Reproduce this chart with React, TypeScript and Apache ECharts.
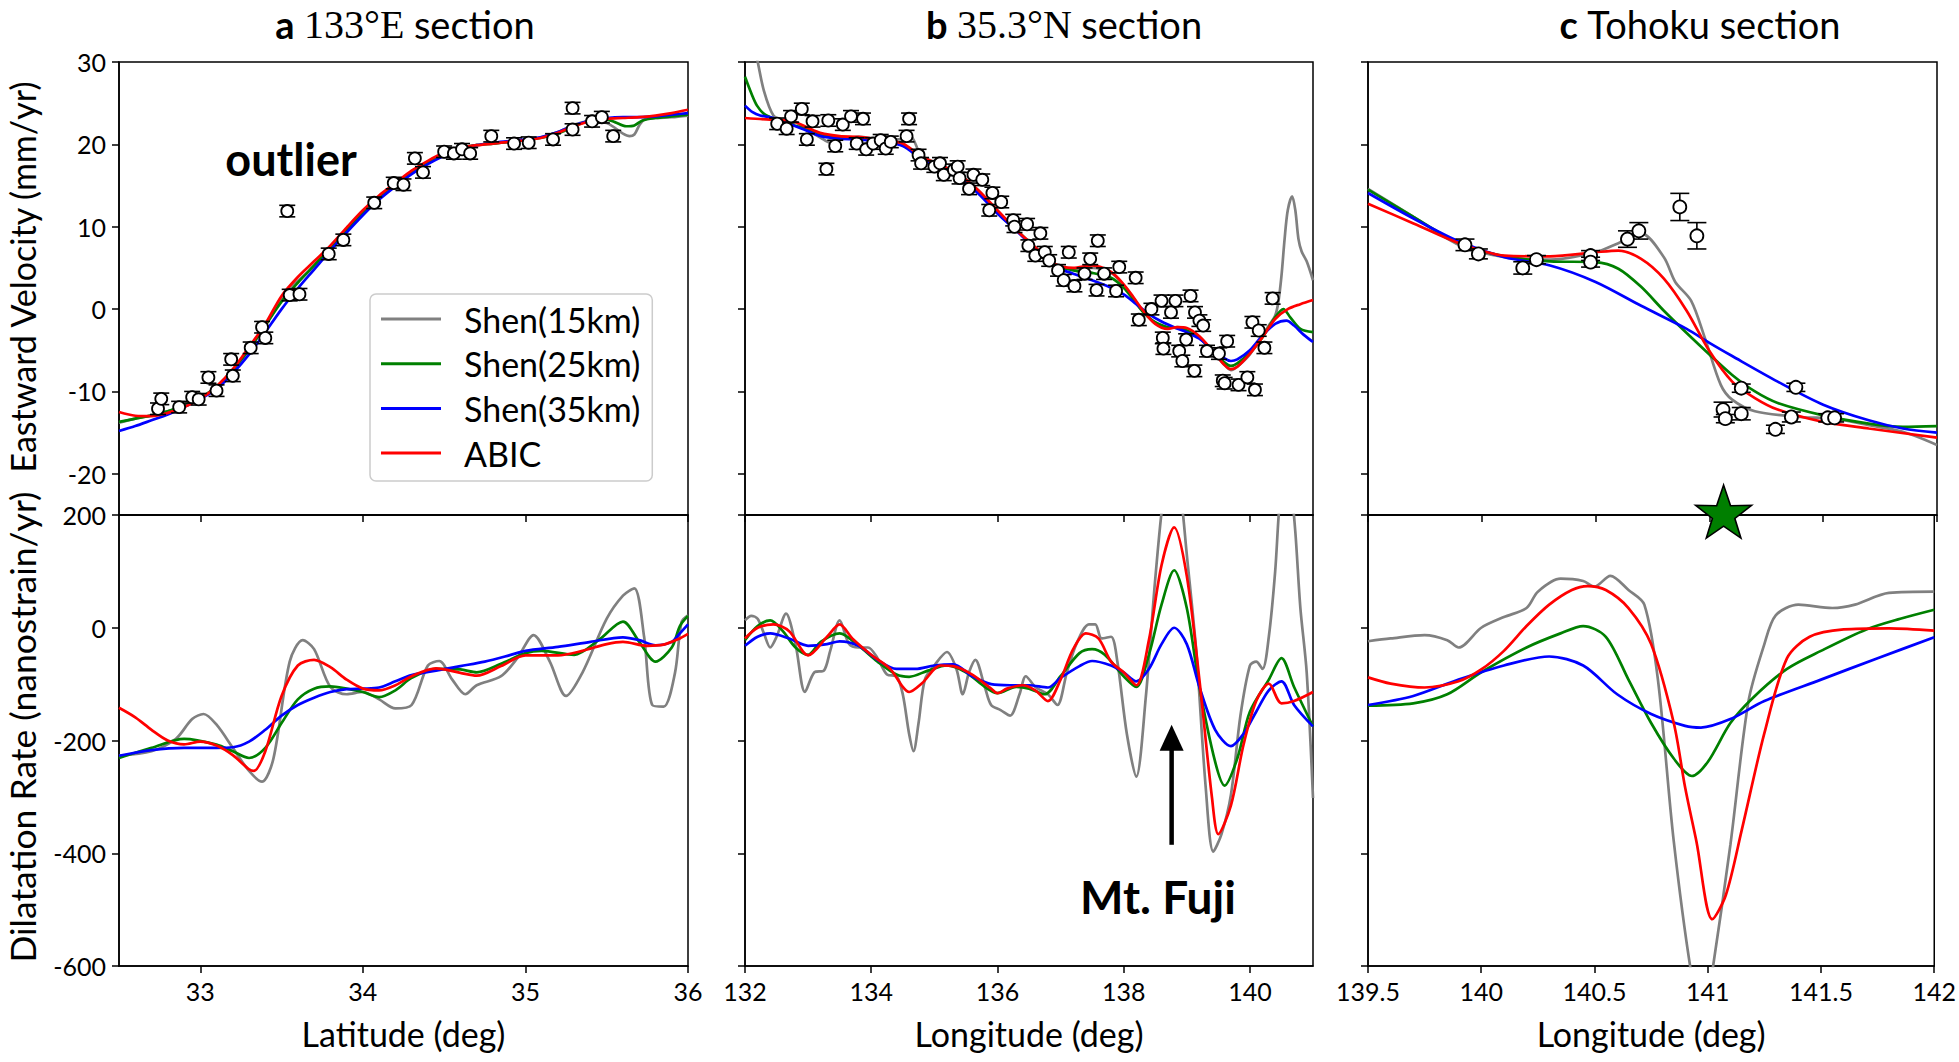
import React, { useEffect, useRef } from 'react';
import * as echarts from 'echarts';

const SERIES_NAMES = ['Shen(15km)', 'Shen(25km)', 'Shen(35km)', 'ABIC'];
const SERIES_COLORS = ['#808080', '#008000', '#0000ff', '#ff0000'];

// ---------- tick values ----------
const aTicksX = [33, 34, 35, 36];
const bTicksX = [132, 134, 136, 138, 140];
const cTicksX = [139.5, 140, 140.5, 141, 141.5, 142];
const velTicks = [-20, -10, 0, 10, 20, 30];
const dilTicks = [-600, -400, -200, 0, 200];

// ---------- panel a : 133°E section ----------
const aObs = [
  [32.74, -12.1, 0.7], [32.76, -10.9, 0.7], [32.87, -11.9, 0.7], [32.95, -10.7, 0.7], [32.99, -10.95, 0.7],
  [33.05, -8.3, 0.7], [33.1, -9.9, 0.7], [33.19, -6.1, 0.7], [33.2, -8.1, 0.7], [33.31, -4.7, 0.7],
  [33.38, -2.2, 0.7], [33.4, -3.5, 0.7], [33.535, 11.9, 0.7], [33.55, 1.7, 0.7], [33.61, 1.8, 0.7],
  [33.79, 6.7, 0.7], [33.88, 8.4, 0.7], [34.07, 12.9, 0.7], [34.19, 15.3, 0.7], [34.25, 15.1, 0.7],
  [34.32, 18.3, 0.7], [34.37, 16.6, 0.7], [34.5, 19.1, 0.7], [34.56, 18.9, 0.7], [34.61, 19.4, 0.7],
  [34.66, 18.9, 0.7], [34.79, 21.0, 0.7], [34.93, 20.1, 0.7], [35.02, 20.2, 0.7], [35.17, 20.6, 0.7],
  [35.29, 24.4, 0.7], [35.29, 21.8, 0.7], [35.41, 22.8, 0.7], [35.47, 23.3, 0.7], [35.54, 21.0, 0.7],
];
const aVel15 = [
  [32.5, -13.8], [32.6, -13.3], [32.7, -12.9], [32.8, -12.4], [32.9, -11.7], [33.0, -10.8], [33.1, -9.4],
  [33.2, -7.4], [33.3, -4.9], [33.4, -2.0], [33.5, 1.2], [33.55, 2.6], [33.6, 3.4], [33.7, 5.2], [33.8, 7.4],
  [33.9, 9.6], [34.0, 11.7], [34.1, 13.6], [34.2, 15.1], [34.3, 16.6], [34.4, 17.8], [34.5, 18.8], [34.6, 19.5],
  [34.7, 19.9], [34.8, 20.1], [34.9, 20.3], [35.0, 20.5], [35.1, 20.9], [35.2, 21.5], [35.3, 22.4], [35.4, 22.8],
  [35.5, 22.6], [35.55, 22.0], [35.6, 21.3], [35.64, 21.0], [35.67, 21.2], [35.7, 22.3], [35.73, 23.0],
  [35.8, 23.2], [35.9, 23.3], [36.0, 23.5],
];
const aVel25 = [
  [32.5, -13.7], [32.6, -13.3], [32.7, -12.9], [32.8, -12.4], [32.9, -11.7], [33.0, -10.8], [33.1, -9.4],
  [33.2, -7.4], [33.3, -4.9], [33.4, -2.0], [33.5, 0.9], [33.6, 3.2], [33.7, 5.3], [33.8, 7.4], [33.9, 9.6],
  [34.0, 11.7], [34.1, 13.6], [34.2, 15.1], [34.3, 16.6], [34.4, 17.8], [34.5, 18.8], [34.6, 19.5], [34.7, 19.9],
  [34.8, 20.1], [34.9, 20.3], [35.0, 20.5], [35.1, 20.8], [35.2, 21.3], [35.3, 22.2], [35.4, 22.9], [35.5, 23.0],
  [35.55, 22.7], [35.62, 22.2], [35.67, 22.3], [35.72, 22.9], [35.8, 23.2], [35.9, 23.4], [36.0, 23.6],
];
const aVel35 = [
  [32.5, -14.8], [32.6, -14.2], [32.7, -13.5], [32.8, -12.8], [32.9, -11.9], [33.0, -10.9], [33.1, -9.7],
  [33.2, -7.8], [33.3, -5.5], [33.4, -2.8], [33.5, 0.0], [33.6, 2.5], [33.7, 4.8], [33.8, 7.1], [33.9, 9.3],
  [34.0, 11.4], [34.1, 13.3], [34.2, 14.9], [34.3, 16.4], [34.4, 17.6], [34.5, 18.6], [34.6, 19.4], [34.7, 19.9],
  [34.8, 20.2], [34.9, 20.4], [35.0, 20.6], [35.1, 20.9], [35.2, 21.5], [35.3, 22.3], [35.4, 22.9], [35.5, 23.2],
  [35.6, 23.3], [35.7, 23.3], [35.8, 23.4], [35.9, 23.6], [36.0, 23.8],
];
const aVelAbic = [
  [32.5, -12.5], [32.6, -12.95], [32.7, -13.0], [32.8, -12.6], [32.9, -11.9], [33.0, -10.9], [33.1, -9.4],
  [33.2, -7.3], [33.3, -4.6], [33.4, -1.8], [33.5, 1.6], [33.6, 3.9], [33.7, 5.8], [33.8, 7.7], [33.9, 9.9],
  [34.0, 12.0], [34.1, 13.8], [34.2, 15.3], [34.3, 16.8], [34.4, 18.0], [34.5, 19.0], [34.6, 19.6], [34.7, 19.9],
  [34.8, 20.1], [34.9, 20.3], [35.0, 20.5], [35.1, 20.8], [35.2, 21.4], [35.3, 22.2], [35.4, 22.8], [35.5, 23.1],
  [35.6, 23.2], [35.7, 23.3], [35.8, 23.5], [35.9, 23.8], [36.0, 24.2],
];
const aDil15 = [
  [32.5, -227], [32.7, -219], [32.85, -197], [32.95, -162], [33.02, -153], [33.1, -172], [33.2, -213],
  [33.3, -254], [33.38, -273], [33.45, -232], [33.55, -60], [33.63, -22], [33.7, -38], [33.8, -105],
  [33.9, -118], [34.0, -114], [34.1, -127], [34.2, -143], [34.3, -137], [34.4, -67], [34.47, -59],
  [34.55, -92], [34.63, -118], [34.7, -102], [34.85, -86], [34.95, -54], [35.05, -13], [35.15, -60],
  [35.25, -121], [35.35, -80], [35.5, 16], [35.6, 57], [35.67, 70], [35.73, -16], [35.78, -137],
  [35.85, -140], [35.92, -80], [35.96, 10], [36.0, 22],
];
const aDil25 = [
  [32.5, -231], [32.7, -213], [32.9, -197], [33.1, -207], [33.2, -219], [33.3, -231], [33.4, -213],
  [33.5, -169], [33.6, -127], [33.7, -108], [33.8, -104], [33.9, -108], [34.0, -114], [34.1, -123],
  [34.2, -111], [34.3, -89], [34.45, -73], [34.6, -74], [34.7, -79], [34.85, -64], [35.0, -45], [35.1, -41],
  [35.3, -48], [35.45, -22], [35.6, 11], [35.7, -25], [35.8, -60], [35.9, -35], [35.95, 3], [36.0, 21],
];
const aDil35 = [
  [32.5, -227], [32.7, -217], [32.9, -213], [33.1, -213], [33.2, -212], [33.3, -202], [33.4, -181],
  [33.5, -156], [33.6, -137], [33.7, -124], [33.8, -114], [33.9, -109], [34.0, -108], [34.1, -106],
  [34.2, -95], [34.3, -84], [34.45, -76], [34.6, -68], [34.75, -60], [34.9, -49], [35.0, -41], [35.2, -34],
  [35.4, -25], [35.6, -17], [35.7, -22], [35.8, -31], [35.9, -25], [35.95, -10], [36.0, 6],
];
const aDilAbic = [
  [32.5, -142], [32.6, -159], [32.7, -181], [32.8, -200], [32.9, -207], [33.0, -202], [33.1, -209],
  [33.2, -226], [33.3, -251], [33.33, -254], [33.4, -219], [33.5, -121], [33.6, -67], [33.7, -57],
  [33.8, -70], [33.9, -92], [34.0, -108], [34.1, -111], [34.2, -102], [34.3, -86], [34.45, -72],
  [34.6, -80], [34.7, -85], [34.85, -68], [35.0, -49], [35.2, -49], [35.35, -41], [35.5, -29], [35.6, -25],
  [35.75, -32], [35.85, -30], [35.95, -19], [36.0, -11],
];

// ---------- panel b : 35.3°N section ----------
const bObs = [
  [132.51, 22.5, 0.7], [132.66, 21.9, 0.7], [132.73, 23.4, 0.7], [132.9, 24.3, 0.7], [132.98, 20.6, 0.7],
  [133.07, 22.8, 0.7], [133.29, 17.0, 0.7], [133.32, 22.9, 0.7], [133.43, 19.8, 0.7], [133.55, 22.4, 0.7],
  [133.68, 23.4, 0.7], [133.77, 20.1, 0.7], [133.87, 23.1, 0.7], [133.92, 19.4, 0.7], [134.03, 20.1, 0.7],
  [134.15, 20.5, 0.7], [134.23, 19.5, 0.7], [134.31, 20.3, 0.7], [134.6, 23.1, 0.7], [134.56, 21.0, 0.7],
  [134.75, 18.7, 0.7], [134.79, 17.7, 0.7], [135.0, 17.3, 0.7], [135.09, 17.7, 0.7], [135.15, 16.3, 0.7],
  [135.31, 16.9, 0.7], [135.37, 17.3, 0.7], [135.4, 15.9, 0.7], [135.55, 14.6, 0.7], [135.62, 16.3, 0.7],
  [135.76, 15.7, 0.7], [135.87, 12.0, 0.7], [135.92, 14.1, 0.7], [136.06, 13.0, 0.7], [136.25, 10.8, 0.7],
  [136.27, 10.0, 0.7], [136.47, 10.3, 0.7], [136.49, 7.7, 0.7], [136.6, 6.5, 0.7], [136.68, 9.2, 0.7],
  [136.75, 6.9, 0.7], [136.82, 5.9, 0.7], [136.96, 4.7, 0.7], [137.05, 3.5, 0.7], [137.13, 6.9, 0.7],
  [137.22, 2.8, 0.7], [137.38, 4.3, 0.7], [137.47, 6.1, 0.7], [137.57, 2.3, 0.7], [137.59, 8.3, 0.7],
  [137.69, 4.3, 0.7], [137.88, 2.2, 0.7], [137.93, 5.1, 0.7], [138.19, 3.8, 0.7], [138.24, -1.3, 0.7],
  [138.44, 0.0, 0.7], [138.6, 1.0, 0.7], [138.62, -3.5, 0.7], [138.63, -4.8, 0.7], [138.75, -0.4, 0.7],
  [138.82, 1.0, 0.7], [138.88, -5.1, 0.7], [138.93, -6.3, 0.7], [138.99, -3.7, 0.7], [139.06, 1.6, 0.7],
  [139.13, -0.4, 0.7], [139.2, -1.4, 0.7], [139.12, -7.5, 0.7], [139.26, -2.0, 0.7], [139.32, -5.1, 0.7],
  [139.51, -5.4, 0.7], [139.57, -8.7, 0.7], [139.6, -9.0, 0.7], [139.64, -3.9, 0.7], [139.82, -9.2, 0.7],
  [139.96, -8.3, 0.7], [140.04, -1.6, 0.7], [140.08, -9.8, 0.7], [140.14, -2.6, 0.7], [140.23, -4.7, 0.7],
  [140.36, 1.3, 0.7],
];
const bVel15 = [
  [132.0, 36], [132.1, 33], [132.19, 30.4], [132.3, 26.5], [132.45, 23.5], [132.6, 22.9], [132.8, 22.7],
  [133.0, 21.7], [133.2, 20.8], [133.35, 20.2], [133.5, 20.6], [133.8, 20.9], [134.2, 20.6], [134.5, 20.6],
  [134.62, 21.0], [134.75, 19.2], [134.8, 18.6], [135.1, 17.5], [135.4, 16.3], [135.7, 14.4], [136.0, 11.8],
  [136.3, 9.6], [136.6, 7.5], [136.9, 5.5], [137.2, 4.9], [137.5, 5.0], [137.8, 4.4], [138.0, 2.9],
  [138.15, 1.4], [138.3, -0.2], [138.5, -1.7], [138.7, -2.3], [138.85, -2.2], [139.0, -2.4], [139.2, -3.4],
  [139.4, -5.0], [139.6, -6.8], [139.7, -7.4], [139.8, -7.0], [140.0, -5.5], [140.2, -3.2], [140.3, -2.0],
  [140.4, -0.8], [140.45, 0.8], [140.5, 4.0], [140.55, 8.5], [140.6, 12.0], [140.67, 13.7], [140.72, 12.0],
  [140.77, 8.5], [140.82, 7.0], [140.9, 5.8], [141.0, 3.5],
];
const bVel25 = [
  [132.0, 28.2], [132.1, 26.2], [132.19, 24.7], [132.3, 23.7], [132.4, 23.3], [132.5, 22.9], [133.0, 21.8],
  [133.2, 21.1], [133.5, 20.9], [133.8, 20.8], [134.2, 20.4], [134.5, 20.0], [134.8, 18.4], [135.1, 17.3],
  [135.4, 16.1], [135.7, 14.2], [136.0, 11.7], [136.3, 9.6], [136.6, 7.4], [136.9, 5.4], [137.2, 4.7],
  [137.5, 4.4], [137.8, 3.8], [138.0, 2.6], [138.15, 1.2], [138.3, -0.3], [138.5, -1.6], [138.7, -2.2],
  [138.85, -2.3], [139.0, -2.6], [139.2, -3.5], [139.4, -5.0], [139.6, -6.5], [139.7, -6.9], [139.8, -6.6],
  [140.0, -5.3], [140.2, -3.4], [140.4, -1.0], [140.53, 0.0], [140.64, -1.0], [140.8, -2.4], [141.0, -2.8],
];
const bVel35 = [
  [132.0, 24.7], [132.12, 23.9], [132.24, 23.5], [132.45, 23.2], [133.0, 21.6], [133.2, 21.0], [133.5, 20.7],
  [133.8, 20.6], [134.2, 20.3], [134.5, 19.8], [134.8, 18.2], [135.1, 17.1], [135.4, 15.9], [135.7, 14.0],
  [136.0, 11.6], [136.3, 9.5], [136.6, 7.3], [136.9, 5.2], [137.2, 4.3], [137.5, 3.5], [137.8, 2.6],
  [138.0, 1.8], [138.2, 0.6], [138.4, -0.6], [138.6, -1.5], [138.8, -2.2], [139.0, -2.8], [139.2, -3.6],
  [139.4, -4.9], [139.6, -6.0], [139.7, -6.3], [139.8, -6.1], [140.0, -5.0], [140.2, -3.2], [140.4, -1.8],
  [140.58, -1.4], [140.7, -2.0], [140.85, -3.1], [141.0, -4.0],
];
const bVelAbic = [
  [132.0, 23.2], [132.4, 23.0], [132.72, 22.9], [133.0, 22.0], [133.19, 21.4], [133.5, 21.0], [133.8, 20.9],
  [134.2, 20.5], [134.5, 20.1], [134.8, 18.5], [135.1, 17.5], [135.4, 16.3], [135.7, 14.4], [136.0, 12.0],
  [136.3, 9.6], [136.6, 7.5], [136.9, 5.5], [137.2, 5.0], [137.5, 5.3], [137.8, 4.5], [138.0, 3.0],
  [138.15, 1.5], [138.3, -0.1], [138.5, -1.8], [138.7, -2.4], [138.85, -2.2], [139.0, -2.3], [139.2, -3.3],
  [139.4, -5.0], [139.6, -6.8], [139.7, -7.3], [139.8, -7.0], [140.0, -5.4], [140.2, -3.4], [140.4, -1.2],
  [140.6, 0.0], [140.8, 0.6], [141.0, 1.1],
];
const bDil15 = [
  [132.0, 13], [132.1, 21], [132.2, 16], [132.3, -10], [132.4, -35], [132.5, -16], [132.65, 25], [132.8, -29],
  [132.95, -114], [133.1, -79], [133.25, -76], [133.35, -41], [133.5, 13], [133.65, -29], [133.8, -35],
  [133.95, -35], [134.1, -54], [134.25, -83], [134.4, -86], [134.5, -118], [134.6, -188], [134.67, -219],
  [134.75, -169], [134.85, -92], [135.0, -67], [135.2, -43], [135.35, -73], [135.45, -118], [135.55, -79],
  [135.65, -57], [135.8, -105], [135.9, -137], [136.05, -146], [136.2, -156], [136.35, -118], [136.45, -86],
  [136.6, -105], [136.8, -118], [136.95, -137], [137.1, -79], [137.25, -29], [137.45, 6], [137.55, 6],
  [137.65, -19], [137.8, -16], [137.9, -60], [138.05, -188], [138.2, -264], [138.35, -124], [138.5, 86],
  [138.65, 250], [138.78, 300], [138.9, 240], [139.0, 130], [139.15, -41], [139.3, -283], [139.42, -397],
  [139.55, -366], [139.7, -296], [139.85, -156], [140.0, -67], [140.1, -60], [140.2, -73], [140.3, -16],
  [140.4, 99], [140.47, 220], [140.56, 300], [140.65, 250], [140.72, 170], [140.8, 35], [140.9, -79],
  [141.0, -302],
];
const bDil25 = [
  [132.0, -22], [132.2, 3], [132.4, 13], [132.6, -6], [132.8, -35], [133.0, -48], [133.2, -25], [133.5, -10],
  [133.8, -32], [134.1, -60], [134.4, -83], [134.6, -87], [134.9, -76], [135.2, -67], [135.5, -79],
  [135.8, -105], [136.0, -116], [136.3, -105], [136.5, -108], [136.75, -118], [137.0, -86], [137.3, -45],
  [137.5, -38], [137.7, -48], [138.0, -86], [138.2, -105], [138.4, -48], [138.6, 41], [138.8, 102],
  [139.0, 35], [139.2, -105], [139.45, -238], [139.6, -280], [139.8, -232], [140.0, -149], [140.3, -92],
  [140.5, -54], [140.7, -105], [141.0, -175],
];
const bDil35 = [
  [132.0, -32], [132.2, -16], [132.4, -10], [132.7, -19], [133.0, -32], [133.3, -29], [133.5, -24],
  [133.8, -32], [134.1, -57], [134.4, -73], [134.7, -73], [135.0, -67], [135.3, -65], [135.6, -86],
  [135.9, -100], [136.2, -102], [136.5, -102], [136.8, -106], [137.0, -89], [137.3, -68], [137.5, -59],
  [137.8, -67], [138.0, -79], [138.2, -95], [138.4, -73], [138.6, -29], [138.8, 0], [139.0, -29],
  [139.2, -105], [139.45, -181], [139.7, -210], [139.9, -188], [140.1, -149], [140.3, -111], [140.5, -95],
  [140.7, -137], [141.0, -175],
];
const bDilAbic = [
  [132.0, -19], [132.2, 0], [132.45, 6], [132.7, -6], [133.0, -49], [133.3, -16], [133.5, 6], [133.7, -19],
  [134.0, -48], [134.3, -73], [134.5, -105], [134.6, -114], [134.8, -99], [135.1, -67], [135.3, -68],
  [135.6, -83], [135.9, -108], [136.0, -116], [136.15, -108], [136.4, -102], [136.6, -111], [136.8, -130],
  [137.0, -92], [137.2, -38], [137.4, -10], [137.6, -19], [137.8, -60], [138.0, -79], [138.2, -102],
  [138.4, -22], [138.6, 111], [138.8, 178], [139.0, 92], [139.2, -92], [139.4, -302], [139.5, -366],
  [139.7, -315], [139.9, -207], [140.1, -130], [140.3, -99], [140.5, -134], [140.7, -130], [141.0, -114],
];
// Mt. Fuji arrow: [longitude, tail, tip] in nanostrain/yr units
const fujiArrow = [138.76, -385, -172];

// ---------- panel c : Tohoku section ----------
const cObs = [
  [139.926, 7.8, 0.7], [139.985, 6.7, 0.6], [140.18, 5.0, 0.75], [140.24, 6.0, 0.5], [140.478, 6.5, 0.6],
  [140.478, 5.7, 0.6], [140.64, 8.5, 1.0], [140.69, 9.5, 1.0], [140.87, 12.4, 1.65], [140.945, 8.9, 1.6],
  [141.06, -12.2, 0.9], [141.07, -13.3, 0.5], [141.14, -12.7, 0.75], [141.14, -9.6, 0.5], [141.29, -14.6, 0.5],
  [141.36, -13.1, 0.6], [141.38, -9.5, 0.5], [141.52, -13.2, 0.5], [141.55, -13.2, 0.5],
];
const cVel15 = [
  [139.5, 14.6], [139.7, 11.2], [139.9, 7.8], [140.1, 6.3], [140.3, 6.0], [140.5, 6.9], [140.6, 8.0],
  [140.7, 9.2], [140.8, 6.3], [140.85, 3.3], [140.92, 1.0], [140.98, -3.5], [141.05, -9.2], [141.1, -11.0],
  [141.2, -12.4], [141.4, -13.1], [141.55, -13.3], [141.7, -14.1], [141.85, -14.9], [142.0, -16.5],
];
const cVel25 = [
  [139.5, 14.5], [139.7, 11.2], [139.9, 8.0], [140.1, 6.4], [140.3, 5.8], [140.5, 5.7], [140.6, 4.9],
  [140.7, 2.7], [140.8, -0.2], [140.9, -2.9], [141.0, -5.5], [141.1, -8.0], [141.2, -10.0], [141.3, -11.4],
  [141.5, -12.9], [141.7, -13.9], [141.85, -14.3], [142.0, -14.2],
];
const cVel35 = [
  [139.5, 14.1], [139.7, 11.0], [139.9, 8.2], [140.1, 6.3], [140.3, 5.3], [140.5, 3.3], [140.7, 0.4],
  [140.9, -2.4], [141.0, -4.1], [141.1, -5.7], [141.3, -8.8], [141.5, -11.6], [141.7, -13.5], [141.85, -14.5],
  [142.0, -15.0],
];
const cVelAbic = [
  [139.5, 12.8], [139.7, 10.4], [139.9, 8.0], [140.1, 6.5], [140.3, 6.4], [140.5, 6.9], [140.6, 7.1],
  [140.7, 6.1], [140.8, 3.7], [140.9, -0.2], [141.0, -5.1], [141.1, -8.8], [141.2, -10.8], [141.3, -12.2],
  [141.5, -13.7], [141.7, -14.5], [142.0, -15.6],
];
const cDil15 = [
  [139.5, -24], [139.6, -19], [139.75, -13], [139.85, -22], [139.9, -35], [140.0, 0], [140.1, 19], [140.2, 35],
  [140.25, 64], [140.35, 87], [140.45, 83], [140.5, 73], [140.57, 92], [140.65, 67], [140.72, 41],
  [140.78, -92], [140.85, -379], [140.93, -620], [140.98, -700], [141.02, -610], [141.1, -385], [141.18, -130],
  [141.25, -29], [141.3, 22], [141.4, 41], [141.55, 35], [141.65, 41], [141.8, 62], [142.0, 64],
];
const cDil25 = [
  [139.5, -138], [139.7, -134], [139.85, -118], [140.0, -79], [140.2, -35], [140.35, -10], [140.45, 3],
  [140.55, -16], [140.65, -92], [140.75, -169], [140.85, -232], [140.93, -263], [141.0, -238], [141.1, -169],
  [141.2, -124], [141.35, -73], [141.5, -41], [141.7, -3], [141.85, 16], [142.0, 32],
];
const cDil35 = [
  [139.5, -137], [139.7, -121], [139.9, -92], [140.1, -67], [140.3, -51], [140.45, -67], [140.6, -118],
  [140.75, -153], [140.9, -174], [140.97, -177], [141.1, -162], [141.25, -130], [141.5, -92], [141.75, -54],
  [142.0, -17],
];
const cDilAbic = [
  [139.5, -88], [139.6, -99], [139.75, -106], [139.9, -95], [140.0, -74], [140.1, -41], [140.2, 3],
  [140.3, 41], [140.4, 67], [140.47, 74], [140.55, 67], [140.65, 35], [140.75, -29], [140.85, -169],
  [140.9, -283], [140.95, -379], [141.02, -517], [141.08, -474], [141.15, -359], [141.25, -187],
  [141.35, -54], [141.45, -16], [141.6, -3], [141.8, -1], [142.0, -5],
];
const cEpicenter = [[141.07, 206]];

const FONT = 'Lato, "Noto Sans", sans-serif';
const SERIF = '"Liberation Serif", "DejaVu Serif", serif';

const STAR = 'path://M50,0 L61.8,35.1 L97.6,34.5 L69.1,56.9 L79.4,90.5 L50,70 L20.6,90.5 L30.9,56.9 L2.4,34.5 L38.2,35.1 Z';

function lineSeries(idx: number, data: number[][], axis: number) {
  return {
    type: 'line',
    name: SERIES_NAMES[idx],
    data,
    xAxisIndex: axis,
    yAxisIndex: axis,
    symbol: 'none',
    smooth: 0.3,
    clip: true,
    lineStyle: { color: SERIES_COLORS[idx], width: 2.7 },
    itemStyle: { color: SERIES_COLORS[idx] },
    z: 3,
  };
}

function errorBars(data: number[][], axis: number, cap: number) {
  return {
    type: 'custom',
    name: 'errorbar',
    xAxisIndex: axis,
    yAxisIndex: axis,
    data,
    encode: { x: 0, y: 1 },
    silent: true,
    z: 4,
    renderItem: (params: any, api: any) => {
      const x = api.value(0);
      const y = api.value(1);
      const e = api.value(2);
      const hi = api.coord([x, y + e]);
      const lo = api.coord([x, y - e]);
      const st = { stroke: '#000', lineWidth: 1.6 };
      return {
        type: 'group',
        children: [
          { type: 'line', shape: { x1: hi[0], y1: hi[1], x2: lo[0], y2: lo[1] }, style: st },
          { type: 'line', shape: { x1: hi[0] - cap, y1: hi[1], x2: hi[0] + cap, y2: hi[1] }, style: st },
          { type: 'line', shape: { x1: lo[0] - cap, y1: lo[1], x2: lo[0] + cap, y2: lo[1] }, style: st },
        ],
      };
    },
  };
}

function arrowSeries(arrow: number[], axis: number) {
  return {
    type: 'custom',
    name: 'fuji-arrow',
    xAxisIndex: axis,
    yAxisIndex: axis,
    data: [arrow],
    encode: { x: 0, y: [1, 2] },
    silent: true,
    z: 6,
    renderItem: (params: any, api: any) => {
      const x = api.value(0);
      const tail = api.coord([x, api.value(1)]);
      const tip = api.coord([x, api.value(2)]);
      const headLen = 26;
      const headHalf = 12;
      return {
        type: 'group',
        children: [
          {
            type: 'line',
            shape: { x1: tail[0], y1: tail[1], x2: tip[0], y2: tip[1] + headLen - 2 },
            style: { stroke: '#000', lineWidth: 4.5 },
          },
          {
            type: 'polygon',
            shape: { points: [[tip[0], tip[1]], [tip[0] - headHalf, tip[1] + headLen], [tip[0] + headHalf, tip[1] + headLen]] },
            style: { fill: '#000' },
          },
        ],
      };
    },
  };
}

function obsSeries(data: number[][], axis: number, size: number) {
  return {
    type: 'scatter',
    name: 'observed',
    xAxisIndex: axis,
    yAxisIndex: axis,
    data: data.map((d) => [d[0], d[1]]),
    symbol: 'circle',
    symbolSize: size,
    silent: true,
    itemStyle: { color: '#ffffff', borderColor: '#000', borderWidth: 1.8, opacity: 1 },
    z: 5,
  };
}

function xAxis(grid: number, min: number, max: number, ticks: number[], showLabel: boolean, name: string) {
  return {
    type: 'value',
    gridIndex: grid,
    min,
    max,
    name: showLabel ? name : '',
    nameLocation: 'middle',
    nameGap: 50,
    nameTextStyle: { fontFamily: FONT, fontSize: 34, color: '#000' },
    axisLine: { show: true, onZero: false, lineStyle: { color: '#000', width: 1.5 } },
    axisTick: { show: true, inside: false, length: 7, customValues: ticks, lineStyle: { color: '#000', width: 1.5 } },
    axisLabel: {
      show: showLabel,
      customValues: ticks,
      margin: 12,
      fontFamily: FONT,
      fontSize: 25,
      color: '#000',
      formatter: (v: number) => String(v),
    },
    splitLine: { show: false },
  };
}

function yAxis(grid: number, min: number, max: number, ticks: number[], showLabel: boolean) {
  return {
    type: 'value',
    gridIndex: grid,
    min,
    max,
    axisLine: { show: true, onZero: false, lineStyle: { color: '#000', width: 1.5 } },
    axisTick: { show: true, inside: false, length: 7, customValues: ticks, lineStyle: { color: '#000', width: 1.5 } },
    axisLabel: {
      show: showLabel,
      customValues: ticks,
      margin: 13,
      fontFamily: FONT,
      fontSize: 25,
      color: '#000',
      formatter: (v: number) => String(v),
    },
    splitLine: { show: false },
  };
}

const PANELS = [
  { left: 119, width: 569 },
  { left: 745, width: 568 },
  { left: 1368, width: 569 },
];
const TOP = 62;
const MID = 515;
const BOTTOM = 966;

function titleText(x: number, text: string) {
  return {
    type: 'text', x, y: 24,
    style: {
      text,
      align: 'center', verticalAlign: 'middle', fill: '#000', fontFamily: FONT, fontSize: 37,
      lineHeight: 40,
      rich: {
        b: { fontFamily: FONT, fontWeight: 'bold', fontSize: 38, lineHeight: 40 },
        s: { fontFamily: SERIF, fontSize: 40, lineHeight: 40 },
        n: { fontFamily: FONT, fontSize: 38, lineHeight: 40 },
      },
    },
  };
}

function buildOption() {
  const grids: any[] = [];
  PANELS.forEach((p) => {
    grids.push({ left: p.left, top: TOP, width: p.width, height: MID - TOP, show: true, borderColor: '#000', borderWidth: 1.5, backgroundColor: 'transparent' });
    grids.push({ left: p.left, top: MID, width: p.width, height: BOTTOM - MID, show: true, borderColor: '#000', borderWidth: 1.5, backgroundColor: 'transparent' });
  });

  const xAxes = [
    xAxis(0, 32.5, 36, aTicksX, false, ''),
    xAxis(1, 32.5, 36, aTicksX, true, 'Latitude (deg)'),
    xAxis(2, 132, 141, bTicksX, false, ''),
    xAxis(3, 132, 141, bTicksX, true, 'Longitude (deg)'),
    xAxis(4, 139.5, 142, cTicksX, false, ''),
    xAxis(5, 139.5, 142, cTicksX, true, 'Longitude (deg)'),
  ];
  const yAxes = [
    yAxis(0, -25, 30, velTicks, true),
    yAxis(1, -600, 200, dilTicks, true),
    yAxis(2, -25, 30, velTicks, false),
    yAxis(3, -600, 200, dilTicks, false),
    yAxis(4, -25, 30, velTicks, false),
    yAxis(5, -600, 200, dilTicks, false),
  ];

  const velSets = [
    [aVel15, aVel25, aVel35, aVelAbic],
    [bVel15, bVel25, bVel35, bVelAbic],
    [cVel15, cVel25, cVel35, cVelAbic],
  ];
  const dilSets = [
    [aDil15, aDil25, aDil35, aDilAbic],
    [bDil15, bDil25, bDil35, bDilAbic],
    [cDil15, cDil25, cDil35, cDilAbic],
  ];
  const obsSets = [aObs, bObs, cObs];

  const series: any[] = [];
  for (let p = 0; p < 3; p++) {
    const top = p * 2;
    const bot = p * 2 + 1;
    velSets[p].forEach((d, i) => series.push(lineSeries(i, d, top)));
    dilSets[p].forEach((d, i) => series.push(lineSeries(i, d, bot)));
    series.push(errorBars(obsSets[p], top, p === 2 ? 9.5 : 8));
    series.push(obsSeries(obsSets[p], top, p === 2 ? 13 : 12));
  }
  // Tohoku earthquake epicentre
  series.push({
    type: 'scatter',
    name: 'epicenter',
    xAxisIndex: 5,
    yAxisIndex: 5,
    data: cEpicenter,
    symbol: STAR,
    symbolSize: [56, 53],
    clip: false,
    silent: true,
    itemStyle: { color: '#007f00', borderColor: '#000', borderWidth: 1.6, opacity: 1 },
    z: 10,
  });
  series.push(arrowSeries(fujiArrow, 3));

  const graphic: any[] = [
    titleText(405, '{b|a} {s|133°E} {n|section}'),
    titleText(1064, '{b|b} {s|35.3°N} {n|section}'),
    titleText(1700, '{b|c} {n|Tohoku section}'),
    {
      type: 'text', x: 22, y: 277, rotation: Math.PI / 2,
      style: { text: 'Eastward Velocity (mm/yr)', align: 'center', verticalAlign: 'middle', fill: '#000', fontFamily: FONT, fontSize: 34 },
    },
    {
      type: 'text', x: 22, y: 727, rotation: Math.PI / 2,
      style: { text: 'Dilatation Rate (nanostrain/yr)', align: 'center', verticalAlign: 'middle', fill: '#000', fontFamily: FONT, fontSize: 35.5 },
    },
    {
      type: 'text', x: 291, y: 159,
      style: { text: 'outlier', align: 'center', verticalAlign: 'middle', fill: '#000', fontFamily: FONT, fontWeight: 'bold', fontSize: 45 },
    },
    {
      type: 'text', x: 1158, y: 896,
      style: { text: 'Mt. Fuji', align: 'center', verticalAlign: 'middle', fill: '#000', fontFamily: FONT, fontWeight: 'bold', fontSize: 46 },
    },
  ];

  return {
    animation: false,
    backgroundColor: '#ffffff',
    grid: grids,
    xAxis: xAxes,
    yAxis: yAxes,
    legend: {
      data: SERIES_NAMES,
      orient: 'vertical',
      left: 370,
      top: 294,
      padding: [8, 12, 11, 11],
      itemGap: 10.7,
      itemWidth: 60,
      itemHeight: 3,
      icon: 'rect',
      selectedMode: false,
      backgroundColor: 'rgba(255,255,255,0.85)',
      borderColor: '#cccccc',
      borderWidth: 1.5,
      borderRadius: 6,
      textStyle: { fontFamily: FONT, fontSize: 34, color: '#000', lineHeight: 34, padding: [0, 0, 0, 18] },
      z: 8,
    },
    graphic,
    series,
  };
}

export default function App() {
  const ref = useRef<HTMLDivElement>(null);
  useEffect(() => {
    if (!ref.current) return;
    const chart = echarts.init(ref.current, undefined, { renderer: 'svg' });
    chart.setOption(buildOption() as any);
    return () => chart.dispose();
  }, []);
  return (
    <div
      ref={ref}
      style={{ position: 'absolute', left: 0, top: 0, width: 1959, height: 1062, background: '#fff' }}
    />
  );
}
